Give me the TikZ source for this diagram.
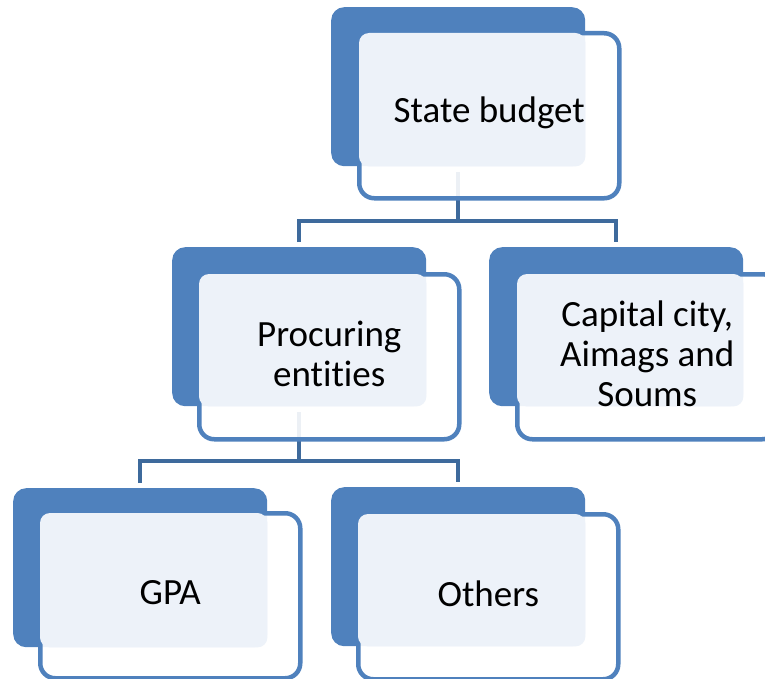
\documentclass[tikz,border=0pt]{standalone}
\usepackage{fontspec}
\setmainfont{Carlito}[Ligatures=NoCommon]
\definecolor{boxblue}{HTML}{4F81BD}
\definecolor{boxlight}{HTML}{EDF2F9}
\definecolor{linkblue}{HTML}{3E6A9C}

\tikzstyle{backbox}=[fill=boxblue,rounded corners=13pt,inner sep=0pt,
  minimum width=254pt,minimum height=159pt,anchor=north west]
\tikzstyle{frontbox}=[draw=boxblue,line width=4.5pt,fill=white,fill opacity=0.9,
  rounded corners=15pt,inner sep=0pt,minimum width=260pt,minimum height=165pt,
  anchor=north west]
\tikzstyle{lightbox}=[fill=boxlight,rounded corners=10pt]
\tikzstyle{boxtext}=[align=center,font=\fontsize{37}{40}\selectfont]
\tikzstyle{conn}=[draw=linkblue,line width=4pt]

\begin{document}
\begin{tikzpicture}[x=1pt,y=-1pt]
\useasboundingbox (0,0) rectangle (765,679);
\clip (0,0) rectangle (765,679);

% back boxes
   \node[backbox] (stb) at (331,7) {};
   \node[backbox] (prb) at (172,247) {};
   \node[backbox] (cpb) at (489,247) {};
   \node[backbox] (gpb) at (13,488) {};
   \node[backbox] (otb) at (331,487) {};

% connectors
   \coordinate (bar1) at (0,221);
   \coordinate (bar2) at (0,461);
\draw[conn] ([yshift=-6pt]stb.south) -- (stb.south |- bar1);
   \draw[conn] ([yshift=5pt]prb.north) -- (prb.north |- bar1) --
(cpb.north |- bar1) -- ([yshift=5pt]cpb.north);
\draw[conn] ([yshift=-6pt]prb.south) -- (prb.south |- bar2);
   \draw[conn] ([yshift=5pt]gpb.north) -- (gpb.north |- bar2) --
(otb.north |- bar2) -- ([yshift=5pt]otb.north);

% front boxes
   \node[frontbox] (stf) at (357,31) {};
   \node[frontbox] (prf) at (197,272) {};
   \node[frontbox] (cpf) at (515,272) {};
   \node[frontbox] (gpf) at (38,511) {};
   \node[frontbox] (otf) at (356,512) {};

% light overlap
   \fill[lightbox] ([shift={(2pt,-2pt)}]stf.north west) rectangle (stb.south east);
   \fill[lightbox] ([shift={(2pt,-2pt)}]prf.north west) rectangle (prb.south east);
   \fill[lightbox] ([shift={(2pt,-2pt)}]cpf.north west) rectangle (cpb.south east);
   \fill[lightbox] ([shift={(2pt,-2pt)}]gpf.north west) rectangle (gpb.south east);
   \fill[lightbox] ([shift={(2pt,-2pt)}]otf.north west) rectangle (otb.south east);

% texts
   \node[boxtext] (stt) at ([yshift=3pt]stf.center) {State budget};
   \node[boxtext] (prt) at ([yshift=3pt]prf.center) {Procuring\\ent\kern0pt it\kern0pt ies};
   \node[boxtext] (cpt) at ([yshift=3pt]cpf.center) {Capital city,\\Aimags and\\Soums};
   \node[boxtext] (gpt) at ([yshift=3pt]gpf.center) {GPA};
   \node[boxtext] (ott) at ([yshift=3pt]otf.center) {Others};

\end{tikzpicture}
\end{document}
